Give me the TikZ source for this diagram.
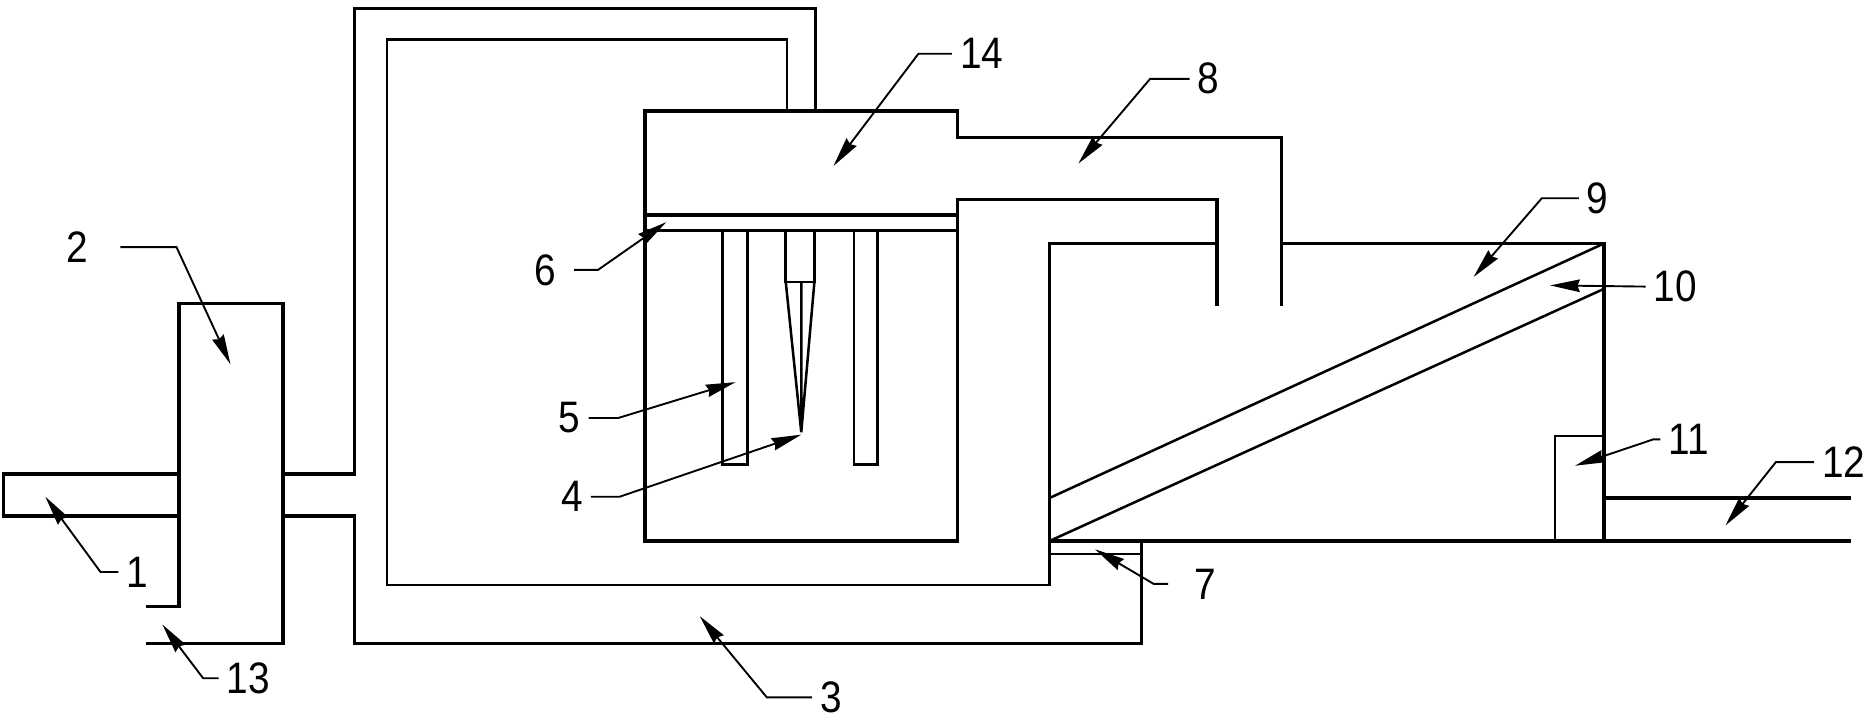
\documentclass[tikz,border=0pt]{standalone}
\usepackage{fontspec}
\setmainfont{Liberation Sans}
\usetikzlibrary{arrows.meta}
\tikzset{
  wall/.style={line width=.85pt},
  thin wall/.style={line width=.6pt},
  lead/.style={line width=.45pt,-{Stealth[length=2.5mm,width=1.05mm,inset=.2mm]}},
  num/.style={inner sep=2pt,font=\fontsize{10.5}{10.5}\selectfont,xscale=.88}
}
\begin{document}
\begin{tikzpicture}[x=.1mm,y=-.1mm]
  \useasboundingbox (0,0) rectangle (1566,600);
  %inlet and box 2
  \draw[wall] (150,397) -- (3,397) -- (3,432) -- (150,432);
  \draw[wall] (122,508) -- (150,508) -- (150,254) -- (237,254) -- (237,539) -- (122,539);
  %outer shell
  \draw[wall] (237,397) -- (297,397) -- (297,7) -- (683,7) -- (683,93);
  \draw[wall] (237,432) -- (297,432) -- (297,539) -- (956,539) -- (956,453);
  %inner shell
  \draw[thin wall] (659,93) -- (659,33) -- (324,33) -- (324,490) -- (879,490) -- (879,204) -- (1019,204);
  %chamber 14 and pipe 8
  \draw[wall] (1073,256) -- (1073,115) -- (802,115) -- (802,93) -- (540,93) -- (540,453) -- (802,453) -- (802,167) -- (1019,167) -- (1019,256);
  \draw[wall] (540,180) -- (802,180);
  \draw[thin wall] (540,193) -- (802,193);
  %rods and nozzle
  \draw[thin wall] (605,193) rectangle (626,389);
  \draw[thin wall] (715,193) rectangle (735,389);
  \draw[thin wall] (658,193) -- (658,236) -- (682,236) -- (682,193);
  \draw[thin wall] (658,236) -- (671,362) -- (682,236) (671,236) -- (671,362);
  %tank
  \draw[wall] (1073,204) -- (1343,204) -- (1343,453);
  \draw[wall] (879,453) -- (1550,453);
  \draw[thin wall] (879,453) -- (879,490);
  \draw[thin wall] (879,417) -- (1343,204) (879,453) -- (1343,242);
  \draw[thin wall] (879,464) -- (956,464);
  \draw[thin wall] (1302,453) -- (1302,365) -- (1343,365);
  \draw[wall] (1343,417) -- (1550,417);
  %labels
  \node[num] (n1) at (115,479) {1};
  \node[num] (n2) at (65,207) {2};
  \node[num,inner ysep=0pt] (n3) at (696,584) {3};
  \node[num] (n4) at (479,416) {4};
  \node[num] (n5) at (477,350) {5};
  \node[num] (n6) at (457,226) {6};
  \node[num] (n7) at (1009,489) {7};
  \node[num] (n8) at (1012,66) {8};
  \node[num] (n9) at (1338,166) {9};
  \node[num] (n10) at (1403,240) {10};
  \node[num] (n11) at (1414,368) {11};
  \node[num] (n12) at (1544,387) {12};
  \node[num] (n13) at (208,568) {13};
  \node[num] (n14) at (822,45) {14};
  %arrow tips
  \coordinate (t1) at (38,416);
  \coordinate (t2) at (193,305);
  \coordinate (t3) at (586,516);
  \coordinate (t4) at (671,364);
  \coordinate (t5) at (616,320);
  \coordinate (t6) at (558,186);
  \coordinate (t7) at (917,460);
  \coordinate (t8) at (903,137);
  \coordinate (t9) at (1234,232);
  \coordinate (t10) at (1298,239);
  \coordinate (t11) at (1319,390);
  \coordinate (t12) at (1445,440);
  \coordinate (t13) at (136,523);
  \coordinate (t14) at (698,139);
  %leaders
  \draw[lead] (n1.west) -- ++(-15,0) -- (t1);
  \draw[lead] ([xshift=2mm]n2.east) -- ++(47,0) -- (t2);
  \draw[lead] (n3.west) -- ++(-38,0) -- (t3);
  \draw[lead] (n4.east) -- ++(24,0) -- (t4);
  \draw[lead] (n5.east) -- ++(25,0) -- (t5);
  \draw[lead] ([xshift=.8mm]n6.east) -- ++(20,0) -- (t6);
  \draw[lead] ([xshift=-1.5mm]n7.west) -- ++(-12,0) -- (t7);
  \draw[lead] (n8.west) -- ++(-33,0) -- (t8);
  \draw[lead] (n9.west) -- ++(-31,0) -- (t9);
  \draw[lead] (n10.west) -- (t10);
  \draw[lead] (n11.west) -- ++(-6,0) -- (t11);
  \draw[lead] (n12.west) -- ++(-32,0) -- (t12);
  \draw[lead] (n13.west) -- ++(-13,0) -- (t13);
  \draw[lead] (n14.west) -- ++(-28,0) -- (t14);
\end{tikzpicture}
\end{document}
